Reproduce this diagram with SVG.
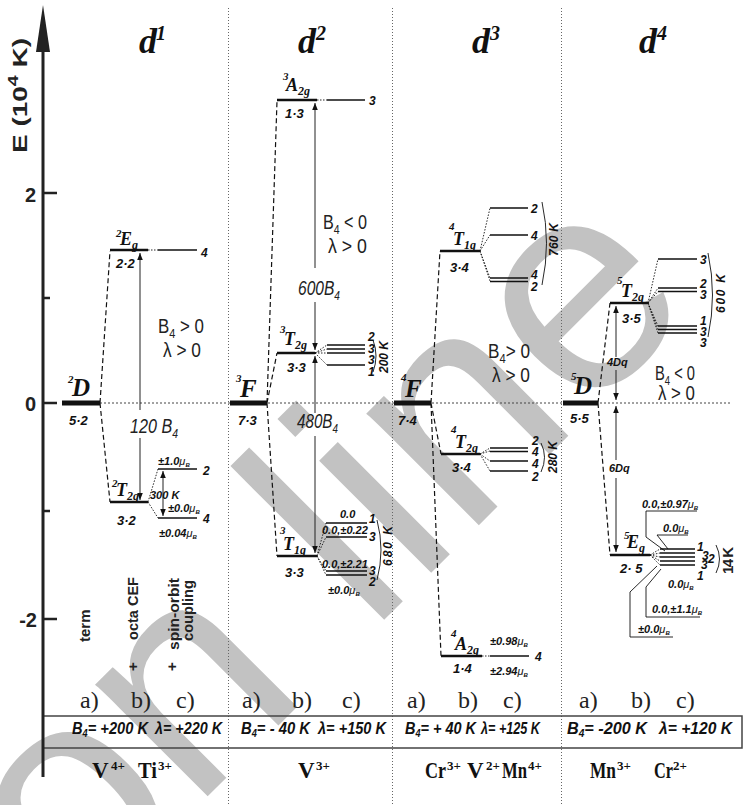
<svg xmlns="http://www.w3.org/2000/svg" width="747" height="805" viewBox="0 0 747 805">
<defs>
<marker id="ah" viewBox="0 0 10 10" refX="10" refY="5" markerWidth="7" markerHeight="7" orient="auto" markerUnits="userSpaceOnUse"><path d="M0,1 L10,5 L0,9 z" fill="#111"/></marker>
<style>
.wm{font-family:"Liberation Sans",sans-serif;font-size:300px;fill:#c2c2c2}
.bar{stroke:#111;stroke-width:5}
.cef{stroke:#111;stroke-width:2.5}
.lvl{stroke:#111;stroke-width:1.6}
.lvn{stroke:#111;stroke-width:1.3}
.ds{stroke:#111;stroke-width:1.2;stroke-dasharray:5 3;fill:none}
.dt{stroke:#111;stroke-width:0.9;stroke-dasharray:1.5 1.5;fill:none}
.ar{stroke:#222;stroke-width:1;fill:none;marker-end:url(#ah)}
.thin{stroke:#111;stroke-width:0.9;fill:none}
.sep{stroke:#666;stroke-width:1;stroke-dasharray:1 2}
.zero{stroke:#444;stroke-width:1;stroke-dasharray:2 2}
.hd{font-family:"Liberation Serif",serif;font-style:italic;font-weight:bold;font-size:36px;fill:#111}
.hs{font-family:"Liberation Serif",serif;font-style:italic;font-weight:bold;font-size:20px;fill:#111}
.tm{font-family:"Liberation Serif",serif;font-style:italic;font-weight:bold;font-size:25px;fill:#111}
.tl{font-family:"Liberation Serif",serif;font-style:italic;font-weight:bold;font-size:18px;fill:#111}
.tsup{font-family:"Liberation Serif",serif;font-style:italic;font-weight:bold;font-size:11px;fill:#111}
.tsub{font-size:12px}
.nb{font-family:"Liberation Sans",sans-serif;font-style:italic;font-weight:bold;font-size:13px;fill:#111}
.lv{font-family:"Liberation Sans",sans-serif;font-style:italic;font-weight:bold;font-size:12px;fill:#111}
.mu{font-family:"Liberation Sans",sans-serif;font-style:italic;font-weight:bold;font-size:11px;fill:#111}
.rk{font-family:"Liberation Sans",sans-serif;font-style:italic;font-weight:bold;font-size:12px;fill:#111}
.bl{font-family:"Liberation Sans",sans-serif;font-size:20px;fill:#222}
.bi{font-family:"Liberation Sans",sans-serif;font-style:italic;font-size:20px;fill:#222}
.ax{font-family:"Liberation Sans",sans-serif;font-weight:bold;font-size:20px;fill:#222}
.vt{font-family:"Liberation Sans",sans-serif;font-weight:bold;font-size:15px;fill:#222}
.abc{font-family:"Liberation Serif",serif;font-size:24px;fill:#222}
.bx{font-family:"Liberation Sans",sans-serif;font-style:italic;font-weight:bold;font-size:16px;fill:#111}
.ion{font-family:"Liberation Serif",serif;font-weight:bold;font-size:23px;fill:#111}
.ions{font-family:"Liberation Serif",serif;font-weight:bold;font-size:13px;fill:#111}
</style>
</defs>
<rect width="747" height="805" fill="#fff"/>
<g id="watermark"><text class="wm" transform="translate(75,929) rotate(-45)">on line</text></g>

<g id="frame">
<line class="sep" x1="228.5" y1="8" x2="228.5" y2="805"/>
<line class="sep" x1="392.5" y1="8" x2="392.5" y2="805"/>
<line class="sep" x1="561.5" y1="8" x2="561.5" y2="805"/>
<line class="zero" x1="100" y1="403" x2="730" y2="403"/>
<path d="M43,716 H742 V748 H43" fill="none" stroke="#444" stroke-width="1.5"/>
</g>

<g id="axis">
<polygon points="43,5 36,52 50,52" fill="#222"/>
<line x1="43" y1="45" x2="43" y2="777" stroke="#222" stroke-width="3"/>
<path d="M43,193H57 M43,403H57 M43,619H57 M43,298H50 M43,511H50" stroke="#222" stroke-width="2.5"/>
<text class="ax" x="36" y="202" text-anchor="end">2</text>
<text class="ax" x="36" y="411" text-anchor="end">0</text>
<text class="ax" x="37" y="627" text-anchor="end">-2</text>
<text class="ax" transform="translate(27,153) rotate(-90)" font-size="22" textLength="115" lengthAdjust="spacingAndGlyphs">E (10<tspan font-size="14" dy="-9">4</tspan><tspan dy="9"> K)</tspan></text>
</g>

<g id="headers">
<text class="hd" x="139" y="53">d</text><text class="hs" x="156" y="40">1</text>
<text class="hd" x="298" y="53">d</text><text class="hs" x="316" y="40">2</text>
<text class="hd" x="472" y="53">d</text><text class="hs" x="490" y="40">3</text>
<text class="hd" x="639" y="53">d</text><text class="hs" x="657" y="40">4</text>
</g>

<g id="connectors">
<path class="ds" d="M100,403 L110,251 M100,403 L110,502"/>
<path class="dt" d="M148,250 H158 M148,502 L158,469 M148,502 L158,518"/>
<path class="ar" d="M140,410 V253"/><path class="ar" d="M140,438 V500"/>
<path class="ar" d="M163,494 V471"/><path class="ar" d="M163,494 V516"/>
<path class="ds" d="M267,403 L277,101 M267,403 L277,353 M267,403 L277,556"/>
<path class="dt" d="M317,100 H327 M315,353 L327,345 M315,353 L327,349 M315,353 L327,353 M315,353 L327,365 M317,556 L326,523 M317,556 L326,537 M317,556 L326,571 M317,556 L326,575"/>
<path class="ar" d="M315,268 V103"/><path class="ar" d="M315,302 V350"/>
<path class="ar" d="M315,413 V356"/><path class="ar" d="M315,436 V553"/>
<path class="ds" d="M431,403 L440,251 M431,403 L441,454 M431,403 L441,656"/>
<path class="dt" d="M480,251 L490,208 M480,251 L490,235 M480,251 L490,278 M480,251 L490,281 M480,454 L490,448 M480,454 L490,451 M480,454 L490,461 M480,454 L490,471 M482,656 H490"/>
<path class="ds" d="M598,403 L610,303 M598,403 L610,555"/>
<path class="dt" d="M648,303 L658,259 M648,303 L658,288 M648,303 L658,291.5 M648,303 L658,326 M648,303 L658,329.5 M648,303 L658,333 M650,555 L660,549 M650,555 L660,553 M650,555 L660,557 M650,555 L660,561 M650,555 L660,565"/>
<path class="ar" d="M616,357 V306"/><path class="ar" d="M616,370 V400"/>
<path class="ar" d="M616,460 V406"/><path class="ar" d="M616,478 V552"/>
<path class="thin" d="M646,511 H697 M646,511 V537 L665,551 M657,535 H688 M657,535 L668,549 M646,617 H700 M646,617 V587 L661,569 M630,637 H673 M630,637 V592 L657,566"/>
</g>

<g id="d1-2D">
<line class="bar" x1="62" y1="403" x2="100" y2="403"/>
<text class="tsup" x="68" y="383">2</text><text class="tm" x="72" y="396">D</text>
<text class="nb" x="69" y="425">5·2</text>
</g>
<g id="d1-2Eg">
<line class="cef" x1="110" y1="250" x2="148" y2="250"/>
<text class="tsup" x="116" y="237">2</text><text class="tl" x="120" y="245">E<tspan class="tsub" dy="4">g</tspan></text>
<text class="nb" x="116" y="268">2·2</text>
<line class="lvl" x1="158" y1="250" x2="197" y2="250"/>
<text class="lv" x="201" y="257">4</text>
</g>
<g id="d1-2T2g">
<line class="cef" x1="110" y1="502" x2="148" y2="502"/>
<text class="tsup" x="112" y="487">2</text><text class="tl" x="116" y="496">T<tspan class="tsub" dy="4">2g</tspan></text>
<text class="nb" x="117" y="525">3·2</text>
<line class="lvl" x1="158" y1="469" x2="197" y2="469"/>
<line class="lvl" x1="158" y1="518" x2="197" y2="518"/>
<text class="lv" x="203" y="475">2</text><text class="lv" x="203" y="523">4</text>
<text class="mu" x="158" y="465">±1.0<tspan font-weight="normal">μ</tspan><tspan font-size="6" dy="2">B</tspan></text>
<text class="mu" x="168" y="512">±0.0<tspan font-weight="normal">μ</tspan><tspan font-size="6" dy="2">B</tspan></text>
<text class="mu" x="159" y="537">±0.04<tspan font-weight="normal">μ</tspan><tspan font-size="6" dy="2">B</tspan></text>
<text class="mu" x="150" y="499" font-size="9">300 K</text>
</g>
<g id="d1-labels">
<text class="bi" x="130" y="433" textLength="48" lengthAdjust="spacingAndGlyphs">120 B<tspan font-size="13" dy="5">4</tspan></text>
<text class="bl" x="158" y="333" textLength="46" lengthAdjust="spacingAndGlyphs">B<tspan font-size="13" dy="5">4</tspan><tspan dy="-5"> &gt; 0</tspan></text>
<text class="bl" x="163" y="357" textLength="38" lengthAdjust="spacingAndGlyphs">λ &gt; 0</text>
<text class="vt" transform="translate(90,642) rotate(-90)">term</text>
<text class="vt" transform="translate(138,671) rotate(-90)">+</text>
<text class="vt" transform="translate(138,640) rotate(-90)" textLength="63" lengthAdjust="spacingAndGlyphs">octa CEF</text>
<text class="vt" transform="translate(177,671) rotate(-90)">+</text>
<text class="vt" transform="translate(179,650) rotate(-90)" textLength="72" lengthAdjust="spacingAndGlyphs">spin-orbit</text>
<text class="vt" transform="translate(193,641) rotate(-90)" textLength="61" lengthAdjust="spacingAndGlyphs">coupling</text>
</g>

<g id="d2-3F">
<line class="bar" x1="230" y1="403" x2="267" y2="403"/>
<text class="tsup" x="236" y="382">3</text><text class="tm" x="240" y="397">F</text>
<text class="nb" x="238" y="425">7·3</text>
</g>
<g id="d2-3A2g">
<line class="cef" x1="277" y1="100" x2="317" y2="100"/>
<text class="tsup" x="283" y="80">3</text><text class="tl" x="286" y="91">A<tspan class="tsub" dy="4">2g</tspan></text>
<text class="nb" x="285" y="118">1·3</text>
<line class="lvl" x1="327" y1="100" x2="365" y2="100"/>
<text class="lv" x="369" y="105">3</text>
</g>
<g id="d2-3T2g">
<line class="cef" x1="277" y1="353" x2="315" y2="353"/>
<text class="tsup" x="280" y="333">3</text><text class="tl" x="284" y="345">T<tspan class="tsub" dy="4">2g</tspan></text>
<text class="nb" x="287" y="372">3·3</text>
<path class="lvl" d="M327,345 H365 M327,349 H365 M327,353 H365 M327,365 H365"/>
<text class="lv" x="368" y="341">2</text><text class="lv" x="368" y="353">3</text><text class="lv" x="368" y="364">3</text><text class="lv" x="368" y="376">1</text>
<path class="thin" d="M373,340 Q379,356 373,372"/>
<text class="rk" transform="translate(388,373) rotate(-90)" textLength="32" font-size="11">200 K</text>
</g>
<g id="d2-3T1g">
<line class="cef" x1="277" y1="556" x2="317" y2="556"/>
<text class="tsup" x="280" y="534">3</text><text class="tl" x="283" y="550">T<tspan class="tsub" dy="4">1g</tspan></text>
<text class="nb" x="285" y="577">3·3</text>
<path class="lvl" d="M326,523 H367 M326,537 H367 M326,571 H367 M326,575 H367"/>
<text class="mu" x="340" y="518">0.0</text>
<text class="mu" x="322" y="534">0.0,±0.22</text>
<text class="mu" x="322" y="568">0.0,±2.21</text>
<text class="mu" x="328" y="594">±0.0<tspan font-weight="normal">μ</tspan><tspan font-size="6" dy="2">B</tspan></text>
<text class="lv" x="369" y="523" font-size="11">1</text><text class="lv" x="369" y="541" font-size="11">3</text>
<text class="lv" x="369" y="575" font-size="11">3</text><text class="lv" x="369" y="586" font-size="11">2</text>
<path class="thin" d="M377,520 Q385,550 377,580"/>
<text class="rk" transform="translate(392,566) rotate(-90)" textLength="40">680 K</text>
</g>
<g id="d2-labels">
<text class="bi" x="298" y="295" textLength="42" lengthAdjust="spacingAndGlyphs">600B<tspan font-size="13" dy="5">4</tspan></text>
<text class="bi" x="297" y="428" textLength="41" lengthAdjust="spacingAndGlyphs">480B<tspan font-size="13" dy="5">4</tspan></text>
<text class="bl" x="323" y="229" textLength="44" lengthAdjust="spacingAndGlyphs">B<tspan font-size="13" dy="5">4</tspan><tspan dy="-5"> &lt; 0</tspan></text>
<text class="bl" x="328" y="253" textLength="39" lengthAdjust="spacingAndGlyphs">λ &gt; 0</text>
</g>

<g id="d3-4F">
<line class="bar" x1="394" y1="403" x2="431" y2="403"/>
<text class="tsup" x="401" y="381">4</text><text class="tm" x="405" y="397">F</text>
<text class="nb" x="398" y="425">7·4</text>
</g>
<g id="d3-4T1g">
<line class="cef" x1="440" y1="251" x2="480" y2="251"/>
<text class="tsup" x="449" y="230">4</text><text class="tl" x="453" y="245">T<tspan class="tsub" dy="4">1g</tspan></text>
<text class="nb" x="450" y="272">3·4</text>
<path class="lvl" d="M490,208 H528 M490,235 H528 M490,278 H528 M490,281.5 H528"/>
<text class="lv" x="531" y="213">2</text><text class="lv" x="531" y="240">4</text><text class="lv" x="531" y="279">4</text><text class="lv" x="531" y="291">2</text>
<path class="thin" d="M542,202 Q551,243 542,285"/>
<text class="rk" transform="translate(558,256) rotate(-90)" textLength="33">760 K</text>
</g>
<g id="d3-4T2g">
<line class="cef" x1="441" y1="454" x2="480" y2="454"/>
<text class="tsup" x="451" y="433">4</text><text class="tl" x="455" y="448">T<tspan class="tsub" dy="4">2g</tspan></text>
<text class="nb" x="452" y="472">3·4</text>
<path class="lvl" d="M490,448 H528 M490,451.5 H528 M490,461 H528 M490,471 H528"/>
<text class="lv" x="532" y="445">2</text><text class="lv" x="532" y="456">4</text><text class="lv" x="532" y="468">4</text><text class="lv" x="532" y="481">2</text>
<path class="thin" d="M541,443 Q548,457 541,472"/>
<text class="rk" transform="translate(557,473) rotate(-90)" textLength="32">280 K</text>
</g>
<g id="d3-4A2g">
<line class="cef" x1="441" y1="656" x2="482" y2="656"/>
<text class="tsup" x="451" y="637">4</text><text class="tl" x="455" y="650">A<tspan class="tsub" dy="4">2g</tspan></text>
<text class="nb" x="453" y="673">1·4</text>
<line class="lvl" x1="490" y1="656" x2="529" y2="656"/>
<text class="lv" x="535" y="661">4</text>
<text class="mu" x="490" y="645">±0.98<tspan font-weight="normal">μ</tspan><tspan font-size="6" dy="2">B</tspan></text>
<text class="mu" x="490" y="675">±2.94<tspan font-weight="normal">μ</tspan><tspan font-size="6" dy="2">B</tspan></text>
</g>
<g id="d3-labels">
<text class="bl" x="488" y="358" textLength="42" lengthAdjust="spacingAndGlyphs">B<tspan font-size="13" dy="5">4</tspan><tspan dy="-5">&gt; 0</tspan></text>
<text class="bl" x="492" y="382" textLength="38" lengthAdjust="spacingAndGlyphs">λ &gt; 0</text>
</g>

<g id="d4-5D">
<line class="bar" x1="563" y1="403" x2="598" y2="403"/>
<text class="tsup" x="571" y="380">5</text><text class="tm" x="574" y="394">D</text>
<text class="nb" x="570" y="423">5·5</text>
</g>
<g id="d4-5T2g">
<line class="cef" x1="610" y1="303" x2="648" y2="303"/>
<text class="tsup" x="617" y="284">5</text><text class="tl" x="621" y="297">T<tspan class="tsub" dy="4">2g</tspan></text>
<text class="nb" x="622" y="323">3·5</text>
<path class="lvn" d="M658,259 H697 M658,288 H697 M658,291.5 H697 M658,326 H697 M658,329.5 H697 M658,333 H697"/>
<text class="lv" x="700" y="264">3</text><text class="lv" x="700" y="288">2</text><text class="lv" x="700" y="299">3</text>
<text class="lv" x="700" y="325">1</text><text class="lv" x="700" y="336">3</text><text class="lv" x="700" y="347">3</text>
<path class="thin" d="M708,253 Q717,295 708,337"/>
<text class="rk" transform="translate(725,313) rotate(-90)" textLength="39">600 K</text>
</g>
<g id="d4-5Eg">
<line class="cef" x1="610" y1="555" x2="650" y2="555"/>
<text class="tsup" x="624" y="539">5</text><text class="tl" x="627" y="548">E<tspan class="tsub" dy="4">g</tspan></text>
<text class="nb" x="620" y="573">2· 5</text>
<path class="lvn" d="M660,549 H695 M660,553 H695 M660,557 H695 M660,561 H695 M660,565 H695"/>
<text class="lv" x="697" y="551">1</text><text class="lv" x="702" y="560" font-size="11">3</text><text class="lv" x="708" y="563" font-size="14">2</text>
<text class="lv" x="701" y="569" font-size="11">3</text><text class="lv" x="697" y="580">1</text>
<path class="thin" d="M716,545 Q723,559 716,573"/>
<text class="vt" transform="translate(733,574) rotate(-90)" font-size="14" textLength="27">14 K</text>
<text class="mu" x="642" y="508">0.0,±0.97<tspan font-weight="normal">μ</tspan><tspan font-size="6" dy="2">B</tspan></text>
<text class="mu" x="663" y="532">0.0<tspan font-weight="normal">μ</tspan><tspan font-size="6" dy="2">B</tspan></text>
<text class="mu" x="668" y="588">0.0<tspan font-weight="normal">μ</tspan><tspan font-size="6" dy="2">B</tspan></text>
<text class="mu" x="652" y="613">0.0,±1.1<tspan font-weight="normal">μ</tspan><tspan font-size="6" dy="2">B</tspan></text>
<text class="mu" x="638" y="633">±0.0<tspan font-weight="normal">μ</tspan><tspan font-size="6" dy="2">B</tspan></text>
</g>
<g id="d4-labels">
<text class="bl" x="655" y="380" textLength="40" lengthAdjust="spacingAndGlyphs">B<tspan font-size="13" dy="5">4</tspan><tspan dy="-5"> &lt; 0</tspan></text>
<text class="bl" x="658" y="400" textLength="37" lengthAdjust="spacingAndGlyphs">λ &gt; 0</text>
<text class="mu" x="607" y="366">4Dq</text>
<text class="mu" x="609" y="472">6Dq</text>
</g>

<g id="columns">
<text class="abc" x="80" y="708">a)</text><text class="abc" x="131" y="708">b)</text><text class="abc" x="176" y="708">c)</text>
<text class="abc" x="242" y="708">a)</text><text class="abc" x="292" y="708">b)</text><text class="abc" x="342" y="708">c)</text>
<text class="abc" x="407" y="708">a)</text><text class="abc" x="458" y="708">b)</text><text class="abc" x="503" y="708">c)</text>
<text class="abc" x="579" y="708">a)</text><text class="abc" x="631" y="708">b)</text><text class="abc" x="676" y="708">c)</text>
</g>

<g id="params">
<text class="bx" x="72" y="734" textLength="76" lengthAdjust="spacingAndGlyphs">B<tspan font-size="10" dy="3">4</tspan><tspan dy="-3">= +200 K</tspan></text>
<text class="bx" x="155" y="734" textLength="67" lengthAdjust="spacingAndGlyphs">λ= +220 K</text>
<text class="bx" x="241" y="734" textLength="69" lengthAdjust="spacingAndGlyphs">B<tspan font-size="10" dy="3">4</tspan><tspan dy="-3">= - 40 K</tspan></text>
<text class="bx" x="318" y="734" textLength="68" lengthAdjust="spacingAndGlyphs">λ= +150 K</text>
<text class="bx" x="405" y="734" textLength="71" lengthAdjust="spacingAndGlyphs">B<tspan font-size="10" dy="3">4</tspan><tspan dy="-3">= + 40 K</tspan></text>
<text class="bx" x="481" y="734" textLength="59" lengthAdjust="spacingAndGlyphs">λ= +125 K</text>
<text class="bx" x="567" y="734" textLength="80" lengthAdjust="spacingAndGlyphs">B<tspan font-size="10" dy="3">4</tspan><tspan dy="-3">= -200 K</tspan></text>
<text class="bx" x="659" y="734" textLength="73" lengthAdjust="spacingAndGlyphs">λ= +120 K</text>
</g>

<g id="ions">
<text class="ion" x="92" y="778">V</text><text class="ions" x="111" y="770">4+</text>
<text class="ion" x="138" y="778" textLength="19" lengthAdjust="spacingAndGlyphs">Ti</text><text class="ions" x="158" y="770">3+</text>
<text class="ion" x="298" y="778">V</text><text class="ions" x="316" y="770">3+</text>
<text class="ion" x="425" y="778" textLength="21" lengthAdjust="spacingAndGlyphs">Cr</text><text class="ions" x="447" y="770">3+</text>
<text class="ion" x="467" y="778">V</text><text class="ions" x="486" y="770">2+</text>
<text class="ion" x="502" y="778" textLength="25" lengthAdjust="spacingAndGlyphs">Mn</text><text class="ions" x="528" y="770">4+</text>
<text class="ion" x="590" y="778" textLength="26" lengthAdjust="spacingAndGlyphs">Mn</text><text class="ions" x="617" y="770">3+</text>
<text class="ion" x="654" y="778" textLength="19" lengthAdjust="spacingAndGlyphs">Cr</text><text class="ions" x="673" y="770">2+</text>
</g>
</svg>
